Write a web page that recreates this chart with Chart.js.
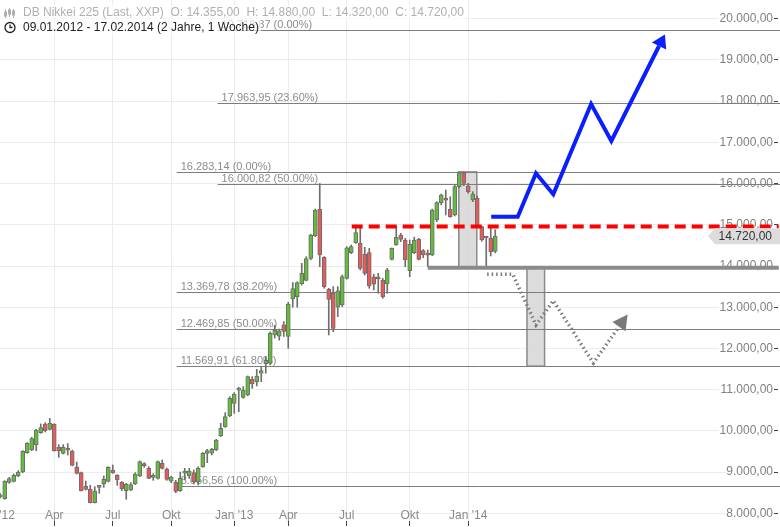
<!DOCTYPE html>
<html>
<head>
<meta charset="utf-8">
<script src="https://cdn.jsdelivr.net/npm/chart.js@4.4.1/dist/chart.umd.min.js"></script>
<style>
  html, body { margin: 0; padding: 0; background: #fff; }
  #wrap { width: 780px; height: 527px; position: relative; }
</style>
</head>
<body>
<div id="wrap"><canvas id="c"></canvas></div>
<script>
// DB Nikkei 225, weekly candles, week 0 = 09.01.2012 ... week 110 = 17.02.2014
const open = [
  8400, 8355, 8751, 8775, 8905, 9002, 9471, 9536, 9665, 9956,
  10166, 10037, 10158, 9600, 9455, 9540, 9511, 9123, 8986, 8654,
  8589, 8258, 8630, 8719, 8775, 9050, 8921, 8759, 8549, 8565,
  8711, 8905, 9204, 9091, 8870, 8849, 9213, 9067, 8780, 8750,
  8549, 8975, 8905, 8986, 8767, 9131, 9455, 9460, 9536, 9876,
  10102, 10361, 10668, 10990, 10814, 10871, 11251, 11194, 11400, 11630,
  11640, 12330, 12300, 12570, 12290, 13200, 13256, 13570, 13650, 14186,
  14730, 15375, 14211, 13434, 13337, 13000, 13054, 13700, 14324, 14566,
  14550, 14291, 14324, 13740, 13690, 13661, 13564, 14162, 14510, 14752,
  14631, 13887, 14324, 14647, 14372, 14280, 14267, 15116, 15537, 15620,
  15375, 15238, 15925, 16260, 15942, 15602, 15642, 14955, 14700, 14672,
  14355
];
const high = [
  8480, 8790, 8873, 8954, 9035, 9520, 9714, 9843, 10037, 10167,
  10199, 10304, 10175, 9665, 9665, 9690, 9536, 9245, 9002, 8784,
  8678, 8646, 8662, 8905, 9131, 9172, 8937, 8767, 8727, 8743,
  8986, 9270, 9229, 9131, 8960, 9270, 9294, 9100, 8900, 8800,
  9000, 9090, 9091, 9051, 9131, 9480, 9552, 9576, 9795, 10183,
  10442, 10830, 10927, 11057, 11073, 11332, 11315, 11493, 11550, 11800,
  12400, 12560, 12470, 12650, 13120, 13600, 13620, 14065, 14227, 14770,
  15383, 16000, 14227, 13459, 13499, 13500, 13782, 14470, 14510, 14995,
  14914, 14453, 14429, 13800, 13822, 13700, 13944, 14440, 14955, 14793,
  14671, 14631, 14700, 14671, 14400, 14389, 15380, 15561, 15747, 15844,
  15682, 15966, 16283, 16283, 16006, 15804, 15700, 14970, 14712, 14971,
  14880
];
const low = [
  8370, 8340, 8727, 8760, 8889, 8986, 9455, 9520, 9520, 9941,
  9973, 10021, 9505, 9358, 9439, 9414, 9150, 8953, 8540, 8565,
  8250, 8250, 8484, 8630, 8759, 8970, 8678, 8549, 8339, 8549,
  8695, 8889, 9115, 8840, 8800, 8830, 9075, 8800, 8740, 8500,
  8530, 8810, 8849, 8711, 8687, 9115, 9228, 9415, 9520, 9860,
  10086, 10345, 10426, 10466, 10790, 10850, 11032, 11089, 11194, 11400,
  11600, 12250, 12200, 12290, 12003, 13000, 13000, 13540, 13640, 14150,
  14712, 13984, 13459, 12326, 12407, 12771, 13014, 13680, 14300, 14550,
  13903, 13782, 13459, 13418, 13337, 13216, 13337, 14146, 14502, 14591,
  13984, 13741, 14300, 14146, 14200, 13984, 14250, 15076, 15480, 15238,
  15180, 15213, 15900, 15950, 15764, 15561, 14940, 14600, 13985, 14243,
  14320
];
const close = [
  8440, 8784, 8840, 8921, 9002, 9503, 9698, 9811, 10021, 10078,
  10005, 10183, 9519, 9511, 9600, 9530, 9160, 8970, 8549, 8582,
  8260, 8541, 8646, 8824, 9115, 8986, 8808, 8597, 8711, 8695,
  8954, 9253, 9156, 8849, 8880, 9253, 9091, 8824, 8880, 8530,
  8849, 9005, 9027, 8767, 9091, 9455, 9520, 9552, 9779, 10062,
  10345, 10790, 10895, 11005, 10992, 11315, 11138, 11332, 11465, 11710,
  12367, 12440, 12430, 12410, 13075, 13450, 13600, 13822, 14180, 14752,
  15359, 14267, 13499, 13192, 12488, 13400, 13741, 14440, 14469, 14809,
  13944, 13822, 13515, 13560, 13720, 13256, 13903, 14429, 14696, 14647,
  14146, 14526, 14631, 14162, 14267, 14260, 15359, 15537, 15723, 15600,
  15197, 15925, 16260, 16006, 15804, 15748, 14955, 14630, 14680, 14348,
  14720
];

// x axis: week index of the first monday of the month
const tickWeeks = [-1, 12, 25, 38, 52, 64, 77, 91, 104];
const tickLabels = ["Jan '12", 'Apr', 'Jul', 'Okt', "Jan '13", 'Apr', 'Jul', 'Okt', "Jan '14"];
// y axis ticks
const priceTicks = [8000, 9000, 10000, 11000, 12000, 13000, 14000, 15000, 16000, 17000, 18000, 19000, 20000];

// fibonacci retracements (level, percent, first week)
const fibLevels = [16283.14, 13369.78, 12469.85, 11569.91, 8656.56, 19718.87, 17963.95, 16000.82];
const fibPct = [0, 38.2, 50, 61.8, 100, 0, 23.6, 50];
const fibStart = [39.2, 39.2, 39.2, 39.2, 39.2, 48.3, 48.3, 48.3];

// drawn scenario
const resistance = 14960;
const resistanceFrom = 78.1;
const support = 13960;
const supportFrom = 95;
const lineEnd = 173;
const boxFrom = [101.9, 117.05];
const boxTo = [105.9, 120.96];
const boxHigh = [16283.14, 13960];
const boxLow = [13960, 11569.91];
const bullX = [109.1, 115, 119.05, 122.9, 131.3, 135.8, 146.4];
const bullY = [15196, 15196, 16249, 15740, 17931, 17033, 19338];
const bearX = [108.2, 113.9, 119.05, 122.9, 131.8, 137.5];
const bearY = [13799, 13799, 12569, 13158, 11647, 12528];

const xMin = -0.055, xMax = 171.5;
const yMin = 7813, yMax = 20454;

const FONT = '"Liberation Sans", Arial, sans-serif';
Chart.defaults.font.family = FONT;
Chart.defaults.font.size = 12;

function fmt(v) {
  const p = v.toFixed(2).split('.');
  return p[0].replace(/\B(?=(\d{3})+(?!\d))/g, '.') + ',' + p[1];
}

const weeks = open.map((_, i) => i);
const up = weeks.map(i => close[i] >= open[i]);

function arrowHead(ctx, x0, y0, x1, y1, len, hw, color) {
  const dx = x1 - x0, dy = y1 - y0, d = Math.hypot(dx, dy);
  const ux = dx / d, uy = dy / d;
  ctx.fillStyle = color;
  ctx.beginPath();
  ctx.moveTo(x1 + ux * len, y1 + uy * len);
  ctx.lineTo(x1 - uy * hw, y1 + ux * hw);
  ctx.lineTo(x1 + uy * hw, y1 - ux * hw);
  ctx.closePath();
  ctx.fill();
}

const noPad = s => { s.paddingLeft = 0; s.paddingRight = 0; s.paddingTop = 0; s.paddingBottom = 0; };

const overlay = {
  id: 'overlay',
  beforeDatasetsDraw(chart) {
    const {ctx, scales: {x, y}} = chart;
    const right = chart.width;
    ctx.save();
    for (let k = 0; k < boxFrom.length; k++) {
      const l = x.getPixelForValue(boxFrom[k]);
      const r = x.getPixelForValue(boxTo[k]);
      const t = y.getPixelForValue(boxHigh[k]);
      const b = y.getPixelForValue(boxLow[k]);
      ctx.fillStyle = 'rgba(214,214,214,0.85)';
      ctx.fillRect(l, t, r - l, b - t);
      ctx.strokeStyle = '#8a8a8a';
      ctx.lineWidth = 1.5;
      ctx.strokeRect(l, t, r - l, b - t);
    }
    ctx.font = '11px ' + FONT;
    ctx.textAlign = 'left';
    ctx.textBaseline = 'alphabetic';
    fibLevels.forEach((lv, k) => {
      const py = Math.round(y.getPixelForValue(lv)) + 0.5;
      const px = x.getPixelForValue(fibStart[k]);
      ctx.strokeStyle = '#7d7d7d';
      ctx.lineWidth = 1;
      ctx.beginPath();
      ctx.moveTo(px, py);
      ctx.lineTo(right, py);
      ctx.stroke();
      ctx.fillStyle = '#8c8c8c';
      ctx.fillText(fmt(lv) + ' (' + fibPct[k].toFixed(2) + '%)', px + 4, py - 3);
    });
    ctx.restore();
  },
  afterDatasetsDraw(chart) {
    const {ctx, scales: {x, y}} = chart;
    ctx.save();
    let n = bullX.length;
    arrowHead(ctx, x.getPixelForValue(bullX[n - 2]), y.getPixelForValue(bullY[n - 2]),
      x.getPixelForValue(bullX[n - 1]), y.getPixelForValue(bullY[n - 1]), 13, 8, '#0a1eff');
    n = bearX.length;
    arrowHead(ctx, x.getPixelForValue(bearX[n - 2]), y.getPixelForValue(bearY[n - 2]),
      x.getPixelForValue(bearX[n - 1]), y.getPixelForValue(bearY[n - 1]), 15, 8, '#7a7a7a');
    ctx.restore();
  },
  afterDraw(chart) {
    const {ctx, scales: {y}} = chart;
    const W = chart.width;
    ctx.save();
    // last price tag
    const last = close[close.length - 1];
    const py = y.getPixelForValue(last);
    ctx.fillStyle = '#dcdcdc';
    ctx.beginPath();
    ctx.moveTo(W - 72, py);
    ctx.lineTo(W - 65, py - 8);
    ctx.lineTo(W, py - 8);
    ctx.lineTo(W, py + 8);
    ctx.lineTo(W - 65, py + 8);
    ctx.closePath();
    ctx.fill();
    ctx.font = '12px ' + FONT;
    ctx.fillStyle = '#333';
    ctx.textAlign = 'right';
    ctx.textBaseline = 'middle';
    ctx.fillText(fmt(last), W - 8, py + 0.5);

    // header
    const n = close.length - 1;
    const line1 = 'DB Nikkei 225 (Last, XXP)  O: ' + fmt(open[n]) + '  H: ' + fmt(high[n]) +
      '  L: ' + fmt(low[n]) + '  C: ' + fmt(close[n]);
    const line2 = '09.01.2012 - 17.02.2014 (2 Jahre, 1 Woche)';
    ctx.textAlign = 'left';
    const w1 = ctx.measureText(line1).width;
    const w2 = ctx.measureText(line2).width;
    ctx.fillStyle = 'rgba(255,255,255,0.65)';
    ctx.fillRect(0, 5, 25 + w1, 15);
    ctx.fillRect(0, 20, 25 + w2, 14);
    ctx.fillStyle = '#b0b0b0';
    ctx.fillText(line1, 23, 13);
    ctx.fillStyle = '#222';
    ctx.fillText(line2, 23, 27.5);
    // small chart icon
    ctx.strokeStyle = '#b0b0b0';
    ctx.lineWidth = 1;
    [[5.5, 9, 18, 12, 16], [9.5, 8, 17, 10, 14], [13.5, 9, 18, 11, 15]].forEach(c => {
      ctx.beginPath(); ctx.moveTo(c[0], c[1]); ctx.lineTo(c[0], c[2]); ctx.stroke();
      ctx.strokeRect(c[0] - 1, c[3], 2, c[4] - c[3]);
    });
    // clock icon
    ctx.strokeStyle = '#222';
    ctx.lineWidth = 1.3;
    ctx.beginPath(); ctx.arc(10, 27.5, 5, 0, Math.PI * 2); ctx.stroke();
    ctx.beginPath(); ctx.moveTo(10, 24.5); ctx.lineTo(10, 27.5); ctx.lineTo(12.5, 27.5); ctx.stroke();
    ctx.restore();
  }
};

new Chart(document.getElementById('c'), {
  type: 'bar',
  data: {
    datasets: [
      {
        type: 'line',
        data: bullX.map((v, i) => ({x: v, y: bullY[i]})),
        borderColor: '#0a1eff',
        borderWidth: 4,
        pointRadius: 0,
        tension: 0,
        clip: false,
        order: 0
      },
      {
        type: 'line',
        data: bearX.map((v, i) => ({x: v, y: bearY[i]})),
        borderColor: '#7a7a7a',
        borderWidth: 3.5,
        borderDash: [1.5, 3],
        pointRadius: 0,
        tension: 0,
        clip: false,
        order: 0
      },
      {
        type: 'line',
        data: [{x: resistanceFrom, y: resistance}, {x: lineEnd, y: resistance}],
        borderColor: '#ff0000',
        borderWidth: 4,
        borderDash: [11, 6],
        pointRadius: 0,
        clip: false,
        order: 0
      },
      {
        type: 'line',
        data: [{x: supportFrom, y: support}, {x: lineEnd, y: support}],
        borderColor: '#8a8a8a',
        borderWidth: 4,
        pointRadius: 0,
        clip: false,
        order: 0
      },
      {
        // candle bodies
        data: weeks.map(i => ({x: i, y: [open[i], close[i]]})),
        backgroundColor: weeks.map(i => up[i] ? '#62bd3a' : '#e65b57'),
        borderColor: '#6e6e6e',
        borderWidth: 1,
        borderSkipped: false,
        barThickness: 4,
        maxBarThickness: 4,
        minBarLength: 2,
        grouped: false,
        order: 1
      },
      {
        // wicks
        data: weeks.map(i => ({x: i, y: [low[i], high[i]]})),
        backgroundColor: '#6e6e6e',
        borderWidth: 0,
        barThickness: 1,
        maxBarThickness: 1,
        grouped: false,
        order: 2
      }
    ]
  },
  options: {
    responsive: true,
    maintainAspectRatio: false,
    animation: false,
    events: [],
    layout: { autoPadding: false, padding: { left: 0, right: 0, top: 0, bottom: 6 } },
    plugins: {
      legend: { display: false },
      tooltip: { enabled: false }
    },
    scales: {
      x: {
        type: 'linear',
        min: xMin,
        max: xMax,
        offset: false,
        grid: { color: '#ececec', tickLength: 5, tickColor: '#444', offset: false },
        border: { display: false },
        afterBuildTicks: s => { s.ticks = tickWeeks.map(v => ({value: v})); },
        afterFit: noPad,
        ticks: {
          padding: -18,
          color: '#8a8a8a',
          autoSkip: false,
          maxRotation: 0,
          minRotation: 0,
          includeBounds: false,
          callback: (v, i) => tickLabels[i]
        }
      },
      y: {
        type: 'linear',
        position: 'right',
        min: yMin,
        max: yMax,
        beginAtZero: false,
        grid: { color: '#ececec', tickLength: 6, tickColor: '#444' },
        border: { display: false },
        afterBuildTicks: s => { s.ticks = priceTicks.map(v => ({value: v})); },
        afterFit: noPad,
        ticks: {
          mirror: true,
          padding: 1,
          color: '#808080',
          showLabelBackdrop: true,
          backdropColor: '#fff',
          backdropPadding: 1,
          callback: v => fmt(v)
        }
      }
    }
  },
  plugins: [overlay]
});
</script>
</body>
</html>
